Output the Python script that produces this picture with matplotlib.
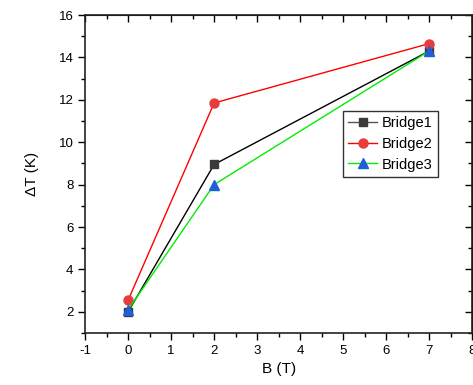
import matplotlib
matplotlib.use("Agg")
import matplotlib.pyplot as plt
from matplotlib.ticker import MultipleLocator

plt.rcParams["font.family"] = ["Liberation Sans", "DejaVu Sans"]
plt.rcParams["axes.unicode_minus"] = False

B = [0, 2, 7]
bridge1 = [2.0, 8.95, 14.3]
bridge2 = [2.55, 11.85, 14.65]
bridge3 = [2.1, 8.0, 14.3]

fig = plt.figure(figsize=(4.73, 3.85), dpi=100)
ax = fig.add_axes([0.18, 0.135, 0.818, 0.826])

ax.plot(B, bridge1, color="black", lw=1, marker="s", ms=6,
        mfc="#3a3a3a", mec="#3a3a3a", label="Bridge1")
ax.plot(B, bridge2, color="red", lw=1, marker="o", ms=6.5,
        mfc="#e83c3c", mec="#e83c3c", label="Bridge2")
ax.plot(B, bridge3, color="#00ee00", lw=1, marker="^", ms=7,
        mfc="#1f60d8", mec="#1f60d8", label="Bridge3")

ax.set_xlim(-1, 8)
ax.set_ylim(1, 16)
ax.xaxis.set_major_locator(MultipleLocator(1))
ax.xaxis.set_minor_locator(MultipleLocator(0.5))
ax.yaxis.set_major_locator(MultipleLocator(2))
ax.yaxis.set_minor_locator(MultipleLocator(1))
ax.tick_params(which="both", direction="out", top=False, right=False,
               labelsize=9.5, width=1)
ax.tick_params(which="major", length=5)
ax.tick_params(which="minor", length=3)

# top/right ticks pointing inward
axt = ax.secondary_xaxis("top")
axt.xaxis.set_major_locator(MultipleLocator(1))
axt.xaxis.set_minor_locator(MultipleLocator(0.5))
axt.tick_params(which="both", direction="in", labeltop=False, width=1)
axt.tick_params(which="major", length=5)
axt.tick_params(which="minor", length=3)
axr = ax.secondary_yaxis("right")
axr.yaxis.set_major_locator(MultipleLocator(2))
axr.yaxis.set_minor_locator(MultipleLocator(1))
axr.tick_params(which="both", direction="in", labelright=False, width=1)
axr.tick_params(which="major", length=5)
axr.tick_params(which="minor", length=3)

for s in ax.spines.values():
    s.set_linewidth(1.2)
    s.set_color("#222222")

ax.set_xlabel("B (T)", fontsize=11, labelpad=4)
ax.set_ylabel("ΔT (K)", fontsize=11, labelpad=14)

leg = ax.legend(loc="upper left", bbox_to_anchor=(0.667, 0.697), fontsize=10.5,
                frameon=True, fancybox=False, edgecolor="black",
                handlelength=2.0, handletextpad=0.3, borderpad=0.35,
                labelspacing=0.45, borderaxespad=0)
leg.get_frame().set_linewidth(1)
leg.get_lines()[0].set_color("#555555")

fig.savefig("out.png", dpi=100, facecolor="white")
